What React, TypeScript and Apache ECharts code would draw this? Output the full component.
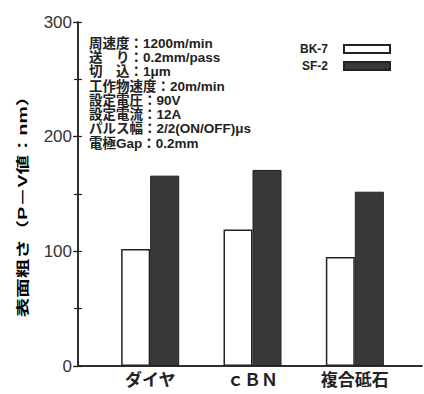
import React, { useEffect, useRef } from "react";
import * as echarts from "echarts";

const categories = ["ダイヤ", "ｃＢＮ", "複合砥石"];
const seriesNames = ["BK-7", "SF-2"];
const bk7Values = [102, 119, 95];
const sf2Values = [166, 171, 152];
const yMin = 0;
const yMax = 300;
const yInterval = 100;
const yMinorInterval = 50;
const yAxisTitle = "表面粗さ（P－V値：nm）";
const noteLines = [
  "周速度：1200m/min",
  "送　り：0.2mm/pass",
  "切　込：1μm",
  "工作物速度：20m/min",
  "設定電圧：90V",
  "設定電流：12A",
  "パルス幅：2/2(ON/OFF)μs",
  "電極Gap：0.2mm",
];

const INK = "#222222";
const FONT = "'Liberation Sans', 'Noto Sans CJK JP', sans-serif";

export default function App() {
  const ref = useRef<HTMLDivElement>(null);
  useEffect(() => {
    if (!ref.current) return;
    const chart = echarts.init(ref.current, null, { renderer: "svg" });
    const frameGrid = { left: 78, right: 2, top: 22, bottom: 28 };
    const barGrid = { left: 99, right: 18, top: 22, bottom: 28 };
    const tickGrid = { left: 78, right: 2, top: 22, bottom: 28 };
    const hiddenX = (gridIndex: number) => ({
      gridIndex,
      type: "value",
      min: 0,
      max: 1,
      show: false,
    });
    chart.setOption({
      animation: false,
      backgroundColor: "#ffffff",
      textStyle: { fontFamily: FONT },
      grid: [frameGrid, barGrid, tickGrid],
      legend: {
        data: seriesNames,
        orient: "vertical",
        left: 295,
        top: 38,
        align: "right",
        icon: "rect",
        itemWidth: 46,
        itemHeight: 8,
        itemGap: 5,
        textStyle: {
          fontFamily: FONT,
          fontSize: 12,
          fontWeight: "bold",
          color: INK,
          lineHeight: 12,
          padding: [0, 11, 0, 0],
        },
      },
      xAxis: [
        {
          gridIndex: 0,
          type: "value",
          position: "bottom",
          min: 0,
          max: 1,
          axisLine: { show: true, lineStyle: { color: INK, width: 1.5 } },
          axisTick: { show: false },
          axisLabel: { show: false },
          splitLine: { show: false },
        },
        {
          gridIndex: 0,
          type: "value",
          position: "top",
          min: 0,
          max: 1,
          axisLine: { show: true, lineStyle: { color: INK, width: 1.5 } },
          axisTick: { show: false },
          axisLabel: { show: false },
          splitLine: { show: false },
        },
        {
          gridIndex: 1,
          type: "category",
          data: categories,
          axisLine: { show: false },
          axisTick: { show: false },
          axisLabel: {
            margin: 6,
            fontFamily: FONT,
            fontSize: 17,
            fontWeight: "bold",
            color: INK,
          },
        },
        hiddenX(2),
      ],
      yAxis: [
        {
          gridIndex: 0,
          type: "value",
          position: "left",
          min: yMin,
          max: yMax,
          interval: yInterval,
          axisLine: { show: true, lineStyle: { color: INK, width: 1.5 } },
          axisTick: { show: true, inside: false, length: 5, lineStyle: { color: INK, width: 1.2 } },
          axisLabel: { margin: 6, fontFamily: FONT, fontSize: 17, color: "#333" },
          splitLine: { show: false },
        },
        {
          gridIndex: 0,
          type: "value",
          position: "right",
          min: yMin,
          max: yMax,
          interval: yMinorInterval,
          axisLine: { show: true, lineStyle: { color: INK, width: 1.5 } },
          axisTick: { show: true, inside: true, length: 4, lineStyle: { color: INK, width: 1.2 } },
          axisLabel: { show: false },
          splitLine: { show: false },
        },
        {
          gridIndex: 1,
          type: "value",
          min: yMin,
          max: yMax,
          show: false,
        },
        {
          gridIndex: 2,
          type: "value",
          position: "left",
          min: yMin,
          max: yMax,
          interval: yMinorInterval,
          axisLine: { show: false },
          axisTick: { show: true, inside: true, length: 4, lineStyle: { color: INK, width: 1.2 } },
          axisLabel: { show: false },
          splitLine: { show: false },
        },
      ],
      series: [
        {
          name: seriesNames[0],
          type: "bar",
          xAxisIndex: 2,
          yAxisIndex: 2,
          data: bk7Values,
          barWidth: 29,
          barGap: "0%",
          itemStyle: { color: "#ffffff", borderColor: INK, borderWidth: 1.5 },
        },
        {
          name: seriesNames[1],
          type: "bar",
          xAxisIndex: 2,
          yAxisIndex: 2,
          data: sf2Values,
          barWidth: 29,
          barGap: "0%",
          itemStyle: { color: "#383838", borderColor: INK, borderWidth: 1 },
        },
      ],
      graphic: [
        {
          type: "text",
          left: 89,
          top: 36,
          style: {
            text: noteLines.join("\n"),
            fontFamily: FONT,
            fontSize: 13.5,
            fontWeight: "bold",
            lineHeight: 14.3,
            fill: INK,
          },
        },
        {
          type: "text",
          x: 23,
          y: 202,
          rotation: Math.PI / 2,
          scaleX: 1.5,
          style: {
            text: yAxisTitle,
            fontFamily: FONT,
            fontSize: 13,
            fontWeight: "bold",
            fill: "#000000",
            opacity: 1,
            align: "center",
            verticalAlign: "middle",
          },
        },
      ],
    });
    return () => chart.dispose();
  }, []);
  return (
    <div
      ref={ref}
      style={{ position: "fixed", left: 0, top: 0, width: 424, height: 394, background: "#fff" }}
    />
  );
}
